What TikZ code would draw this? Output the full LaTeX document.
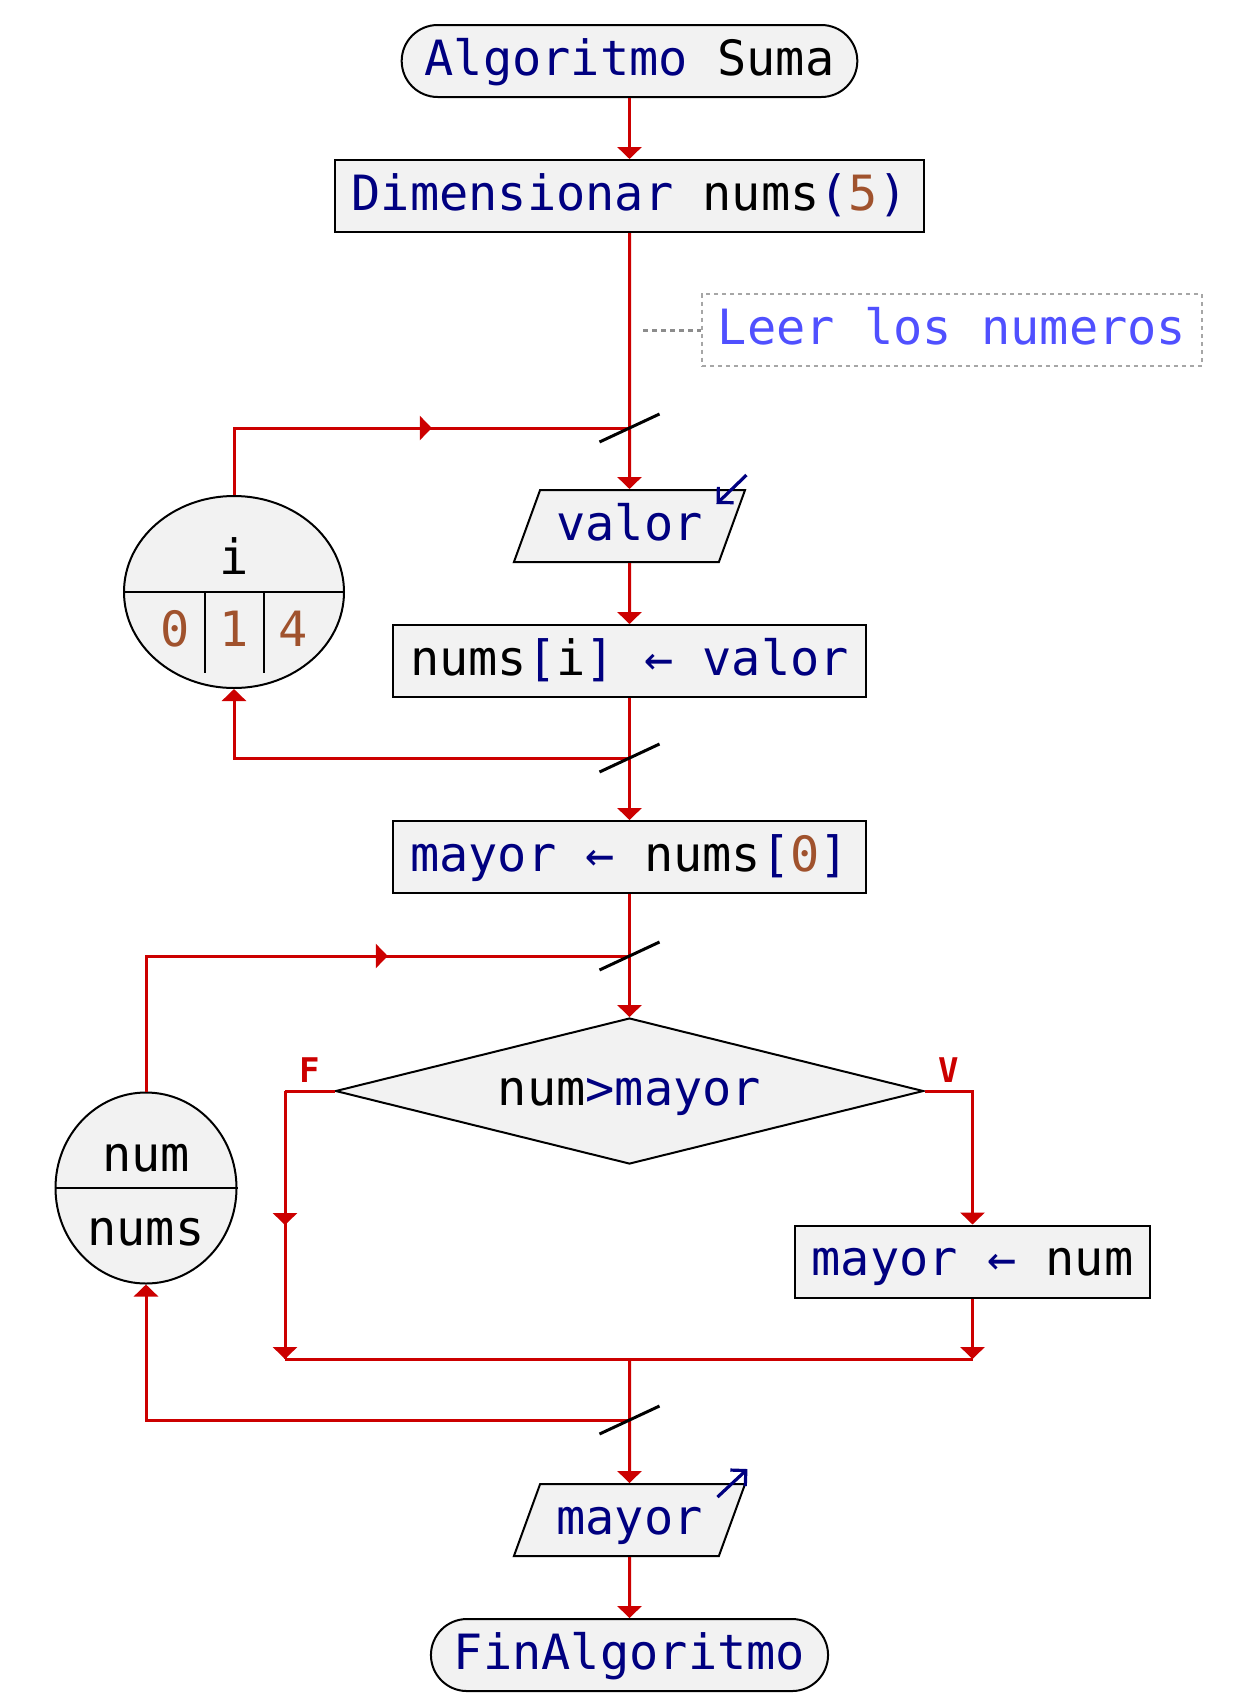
\documentclass[tikz,border=0pt]{standalone}
\usepackage{fontspec}
\newfontfamily\codefont{DejaVu Sans Mono}
\usetikzlibrary{positioning, shapes.geometric, arrows.meta, decorations.markings}

\definecolor{flowred}{HTML}{CC0000}
\definecolor{kwblue}{HTML}{000080}
\definecolor{numbrown}{HTML}{A0522D}
\definecolor{notecol}{HTML}{5050FF}
\definecolor{boxfill}{HTML}{F2F2F2}

\newcommand{\kw}[1]{\textcolor{kwblue}{#1}}
\newcommand{\nm}[1]{\textcolor{numbrown}{#1}}

\tikzset{
  every node/.style={font=\codefont\fontsize{24.3}{29}\selectfont, text height=19pt, text depth=5pt},
  block/.style={rectangle, draw, line width=1pt, fill=boxfill, minimum height=36pt, inner xsep=8.5pt},
  terminal/.style={block, rounded corners=18pt, inner xsep=11.5pt},
  io/.style={trapezium, trapezium left angle=70, trapezium right angle=110, draw, line width=1pt, fill=boxfill, minimum height=36pt, inner xsep=1.5pt},
  decision/.style={diamond, aspect=4.03, draw, line width=1pt, fill=boxfill, minimum width=294pt, minimum height=73pt, inner sep=0pt},
  loopvar/.style={ellipse, draw, line width=1pt, fill=boxfill, inner sep=0pt},
  flow/.style={draw=flowred, line width=1.5pt},
  arrowend/.style={-{Triangle[width=12pt,length=6pt]}},
  midarrow/.style={postaction={decorate}, decoration={markings, mark=at position 0.5 with {\arrow[flowred]{Triangle[width=12pt,length=6pt]}}}},
  slash/.style={draw=black, line width=1.5pt},
  iconarrow/.style={draw=kwblue, line width=1.6pt, -{Straight Barb[length=5.5pt,width=11pt]}},
  note/.style={draw=black!35, dash pattern=on 2pt off 2pt, line width=1pt, text=notecol, minimum height=36pt, inner xsep=8pt},
  notelink/.style={draw=black!45, line width=1.5pt, dash pattern=on 2.5pt off 2pt},
  branch/.style={text=flowred, font=\codefont\bfseries\fontsize{17}{20}\selectfont, text height=12.5pt, text depth=0pt, inner sep=4pt}
}

\begin{document}
\begin{tikzpicture}[x=0.5pt, y=-0.5pt]
    \useasboundingbox (0,0) rectangle (1234,1708);

    % main column
    \node[terminal] (start) at (629.5,61) {\kw{Algoritmo} Suma};
    \node[block, below=30.5pt of start] (dim) {\kw{Dimensionar} nums\kw{(}\nm{5}\kw{)}};
    \node[io, below=128pt of dim] (readval) {\kw{valor}};
    \node[block, below=30.5pt of readval] (store) {nums\kw{[}i\kw{] ← valor}};
    \node[block, below=61pt of store] (init) {\kw{mayor ←} nums\kw{[}\nm{0}\kw{]}};
    \node[decision, below=61.5pt of init] (cmp) {num\kw{>mayor}};
    \node[block] (update) at (972.5,1261.5) {\kw{mayor ←} num};
    \node[io, below=159pt of cmp] (show) {\kw{mayor}};
    \node[terminal, below=30.5pt of show] (finish) {\kw{FinAlgoritmo}};

    % comment
    \node[note] (cmt) at (952,330) {Leer los numeros};
    \coordinate (cmtfoot) at (643,330);
    \draw[notelink] (cmtfoot) -- (cmt.west);

    % loop variables
    \node[loopvar, minimum width=110pt, minimum height=96pt] (icirc) at (234,592) {};
    \draw[line width=1pt] (icirc.west) -- (icirc.east);
    \draw[line width=1pt] (icirc.center) ++(-29.5,0) -- ++(0,81);
    \draw[line width=1pt] (icirc.center) ++(29.5,0) -- ++(0,81);
    \path (icirc.center) ++(0,-32) node {i};
    \path (icirc.center) ++(-59,40) node {\nm{0}};
    \path (icirc.center) ++(0,40) node {\nm{1}};
    \path (icirc.center) ++(59,40) node {\nm{4}};

    \node[loopvar, minimum width=90.5pt, minimum height=95.5pt] (numcirc) at (146,1188) {};
    \draw[line width=1pt] (numcirc.west) -- (numcirc.east);
    \path (numcirc.center) ++(0,-31) node {num};
    \path (numcirc.center) ++(0,43) node {nums};

    % loop joints
    \coordinate (j1) at (dim.south |- 0,428);
    \coordinate (j2) at (dim.south |- 0,758);
    \coordinate (j3) at (dim.south |- 0,956);
    \coordinate (j4) at (dim.south |- 0,1420);
    \coordinate (fcorner) at (cmp.west -| 285,0);
    \coordinate (fend) at (fcorner |- 0,1359);
    \coordinate (vend) at (update.south |- fend);
    \coordinate (mrg) at (cmp.south |- fend);

    % connectors
    \draw[flow, arrowend] (start) -- (dim);
    \draw[flow, arrowend] (dim) -- (readval);
    \draw[flow, arrowend] (readval) -- (store);
    \draw[flow, arrowend] (store) -- (init);
    \draw[flow, arrowend] (init) -- (cmp);

    \draw[flow] (icirc.north) |- (j1);
    \draw[flow, midarrow] (icirc.north |- j1) -- (j1);
    \draw[flow, arrowend] (j2) -| (icirc.south);

    \draw[flow] (cmp.west) -- (fcorner);
    \draw[flow, midarrow] (fcorner) -- (fend);
    \draw[flow, arrowend] (fcorner) -- (fend);
    \draw[flow, arrowend] (cmp.east) -| (update.north);
    \draw[flow, arrowend] (update.south) -- (vend);
    \draw[flow] (fend) -- (vend);
    \path (cmp.west) -- node[branch, above] {F} (fcorner);
    \path (cmp.east) -- node[branch, above] {V} (cmp.east -| update.north);

    \draw[flow] (numcirc.north) |- (j3);
    \draw[flow, midarrow] (numcirc.north |- j3) -- (j3);
    \draw[flow, arrowend] (j4) -| (numcirc.south);

    \draw[flow, arrowend] (mrg) -- (show);
    \draw[flow, arrowend] (show) -- (finish);

    % loop marks
    \foreach \j in {j1, j2, j3, j4}
      \draw[slash] (\j) ++(-30,14) -- ++(60,-28);

    % read / write icons
    \draw[iconarrow] ([shift={(0,-14)}]readval.top right corner) -- ++(-30,29);
    \draw[iconarrow] ([shift={(-29,14)}]show.top right corner) -- ++(30,-28);
\end{tikzpicture}
\end{document}
